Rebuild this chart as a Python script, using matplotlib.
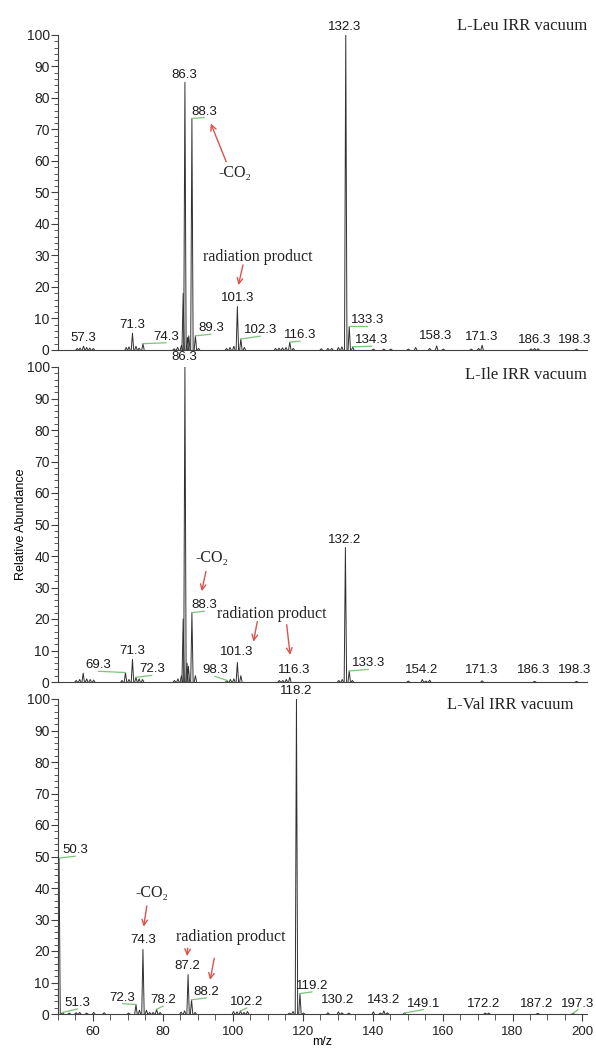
import matplotlib
matplotlib.use('Agg')
import matplotlib.pyplot as plt
from matplotlib.ticker import MultipleLocator

SANS = ['Liberation Sans', 'DejaVu Sans']
SERIF = ['Liberation Serif', 'DejaVu Serif']
GREEN = '#7cc47c'
RED = '#d9534f'
PEAK_W = 0.35

# ---- L-Leu ----
leu_mz = [55.5, 56.3, 57.3, 58.2, 59.1, 60.1, 69.5, 70.3, 71.3, 72.3, 73.2, 74.3,
          83.2, 84.2, 85.3, 85.8, 86.3, 87.0, 87.4, 88.3, 89.3, 90.2,
          98.2, 99.2, 100.3, 101.3, 102.3, 103.3, 112.2, 113.2, 114.2, 115.2, 116.3, 117.3,
          125.3, 127.2, 128.3, 130.2, 131.2, 132.3, 133.3, 134.3,
          140.2, 143.2, 145.2, 150.2, 152.3, 156.3, 158.3, 160.2, 168.2, 170.3, 171.3,
          185.3, 186.3, 187.3, 198.3]
leu_int = [0.5, 0.6, 1.2, 0.8, 0.6, 0.5, 0.8, 1.0, 5.3, 1.2, 0.6, 2.0,
           0.4, 0.8, 1.5, 18, 85, 4, 4.5, 73.5, 4.5, 0.5,
           0.5, 0.8, 1.2, 13.8, 3.5, 0.8, 0.5, 0.6, 0.7, 0.8, 2.5, 0.5,
           0.4, 0.5, 0.5, 0.8, 1.0, 100, 7.5, 1.0,
           0.3, 0.3, 0.3, 0.3, 0.8, 0.5, 1.3, 0.3, 0.3, 0.5, 1.5,
           0.4, 0.5, 0.4, 0.3]
leu_labels = ['57.3', '71.3', '74.3', '86.3', '88.3', '89.3', '101.3', '102.3', '116.3',
              '132.3', '133.3', '134.3', '158.3', '171.3', '186.3', '198.3']

# ---- L-Ile ----
ile_mz = [55.2, 56.2, 57.2, 58.2, 59.2, 60.2, 68.3, 69.3, 70.3, 71.3, 72.3, 73.2, 74.2,
          83.3, 84.3, 85.3, 85.8, 86.3, 86.9, 87.3, 88.3, 89.3,
          98.3, 99.3, 100.3, 101.3, 102.3, 113.3, 114.3, 115.3, 116.3,
          130.3, 131.3, 132.2, 133.3, 134.2,
          150.2, 154.2, 155.2, 156.3, 171.3, 186.3, 198.3]
ile_int = [0.5, 0.8, 2.8, 1.0, 0.8, 0.6, 0.5, 3.0, 0.8, 7.2, 1.5, 1.0, 0.8,
           0.5, 1.0, 2.0, 20, 100, 6, 5, 22, 2.0,
           0.5, 0.8, 1.0, 6.2, 2.0, 0.5, 0.5, 0.8, 1.5,
           0.5, 0.8, 42.7, 3.5, 0.5,
           0.3, 0.8, 0.3, 0.6, 0.4, 0.2, 0.2]
ile_labels = ['69.3', '71.3', '72.3', '86.3', '88.3', '98.3', '101.3', '116.3',
              '132.2', '133.3', '154.2', '171.3', '186.3', '198.3']

# ---- L-Val ----
val_mz = [50.3, 51.3, 53.2, 55.2, 56.2, 58.2, 60.2, 63.2, 70.2, 72.3, 73.3, 74.3, 75.3,
          76.2, 77.2, 78.2, 79.2, 85.2, 86.2, 87.2, 88.2, 89.2,
          100.2, 101.2, 102.2, 103.2, 104.2, 116.2, 117.2, 118.2, 119.2, 120.2,
          127.2, 130.2, 131.2, 133.2, 140.2, 142.2, 143.2, 144.2, 149.1,
          172.2, 173.2, 187.2, 197.3]
val_int = [49.5, 0.5, 0.3, 0.4, 0.5, 0.3, 0.5, 0.4, 0.3, 3.0, 1.2, 20.5, 1.2,
           0.5, 0.5, 1.5, 0.5, 0.6, 1.0, 12.5, 4.5, 0.5,
           0.8, 0.7, 1.0, 0.5, 0.8, 0.3, 0.8, 100, 6.5, 0.3,
           0.4, 0.7, 0.4, 0.3, 0.7, 0.3, 1.0, 0.4, 0.3,
           0.3, 0.3, 0.2, 0.2]
val_labels = ['50.3', '51.3', '72.3', '74.3', '78.2', '87.2', '88.2', '102.2', '118.2',
              '119.2', '130.2', '143.2', '149.1', '172.2', '187.2', '197.3']

titles = ['L-Leu IRR vacuum', 'L-Ile IRR vacuum', 'L-Val IRR vacuum']

# label layout: (x, y of text bottom, green leader?)
leu_pos = [(57.1, 1.8, 0), (71.2, 6.0, 0), (80.9, 2.3, 1), (86.2, 85.5, 0), (91.8, 73.8, 1),
           (93.7, 5.0, 1), (101.3, 14.6, 0), (107.8, 4.4, 1), (119.2, 2.8, 1),
           (132.1, 100.6, 0), (138.4, 7.5, 1), (139.7, 1.2, 1), (158.0, 2.6, 0),
           (171.1, 2.1, 0), (186.2, 1.2, 0), (197.8, 1.2, 0)]
ile_pos = [(61.6, 3.4, 1), (71.1, 7.9, 0), (76.8, 2.1, 1), (86.2, 101.2, 0), (91.8, 22.5, 1),
           (94.9, 1.8, 1), (101.1, 7.5, 0), (117.5, 1.8, 0), (132.1, 43.2, 0),
           (138.7, 4.0, 1), (154.0, 1.8, 0), (171.1, 1.8, 0), (185.9, 1.8, 0), (197.8, 1.8, 0)]
val_pos = [(54.9, 50.1, 1), (55.6, 1.6, 1), (68.5, 3.3, 1), (74.3, 21.5, 0), (80.0, 2.5, 1),
           (87.0, 13.3, 0), (92.4, 5.1, 1), (104.0, 1.9, 1), (118.1, 100.6, 0),
           (122.6, 7.0, 1), (129.9, 2.5, 0), (143.0, 2.5, 0), (154.5, 1.4, 1),
           (171.8, 1.4, 0), (186.8, 1.4, 0), (198.7, 1.4, 1)]

# red notes: (text, x, y, [arrows (x0, y0, x1, y1)])
leu_notes = [('-CO\u2082', 100.7, 56.2, [(98.1, 59.8, 93.7, 71.9)]),
             ('radiation product', 107.2, 29.6, [(102.9, 27.0, 101.6, 20.6)])]
ile_notes = [('-CO\u2082', 94.0, 39.4, [(92.3, 35.1, 91.1, 28.8)]),
             ('radiation product', 111.1, 21.7, [(107.0, 19.2, 105.9, 12.8),
                                                  (115.4, 18.2, 116.4, 8.6)])]
val_notes = [('-CO\u2082', 76.8, 38.5, [(75.4, 34.3, 74.5, 27.7)]),
             ('radiation product', 99.4, 24.3, [(87.1, 20.9, 86.9, 18.4),
                                                 (94.7, 17.7, 93.5, 10.8)])]

panels = [(leu_mz, leu_int, leu_labels, leu_pos, leu_notes),
          (ile_mz, ile_int, ile_labels, ile_pos, ile_notes),
          (val_mz, val_int, val_labels, val_pos, val_notes)]

fig = plt.figure(figsize=(5.96, 10.5), dpi=100)
left, width = 58 / 596, (587 - 58) / 596
bottoms = [1 - 350 / 1050, 1 - 682 / 1050, 1 - 1014 / 1050]
title_pos = [(1.0, 1.054), (1.0, 1.0), (0.975, 1.005)]

axes = []
for i, (mz, inten, labels, pos, notes) in enumerate(panels):
    ax = fig.add_axes([left, bottoms[i], width, 315 / 1050])
    axes.append(ax)
    for m, h in zip(mz, inten):
        ax.plot([m - PEAK_W, m, m + PEAK_W], [0, h, 0], color='#303030', lw=0.7)

    for lab, (lx, ly, lead) in zip(labels, pos):
        ax.text(lx, ly, lab, ha='center', va='bottom', fontsize=9.5,
                family=SANS, color='#1a1a1a')
        if lead:
            m = float(lab)
            k = min(range(len(mz)), key=lambda j: abs(mz[j] - m))
            ax.plot([mz[k], lx], [inten[k], ly], color=GREEN, lw=0.9, clip_on=False)

    for txt, tx, ty, arrows in notes:
        ax.text(tx, ty, txt, ha='center', va='center', fontsize=11.5,
                family=SERIF, color='#222222')
        for x0, y0, x1, y1 in arrows:
            ax.annotate('', xy=(x1, y1), xytext=(x0, y0),
                        arrowprops=dict(arrowstyle='->', color=RED, lw=1.0,
                                        shrinkA=0, shrinkB=0))

    tx, ty = title_pos[i]
    ax.text(tx, ty, titles[i], transform=ax.transAxes, ha='right', va='top',
            fontsize=12, family=SERIF, color='#222222')

    ax.set_xlim(50, 201.3)
    ax.set_ylim(0, 100)
    for s in ['top', 'right']:
        ax.spines[s].set_visible(False)
    for s in ['left', 'bottom']:
        ax.spines[s].set_color('#404040')
        ax.spines[s].set_linewidth(0.8)
    ax.yaxis.set_major_locator(MultipleLocator(10))
    ax.yaxis.set_minor_locator(MultipleLocator(2))
    ax.tick_params(axis='y', which='major', length=5, width=0.8, labelsize=10,
                   colors='#404040', labelcolor='#222222', pad=1)
    ax.tick_params(axis='y', which='minor', length=3, width=0.6, colors='#404040')
    for t in ax.get_yticklabels():
        t.set_family(SANS)
    if i < 2:
        ax.tick_params(axis='x', which='both', bottom=False, labelbottom=False)
    else:
        ax.xaxis.set_major_locator(MultipleLocator(20))
        ax.xaxis.set_minor_locator(MultipleLocator(5))
        ax.tick_params(axis='x', which='major', length=5, width=0.8, labelsize=9.5,
                       colors='#404040', labelcolor='#222222')
        ax.tick_params(axis='x', which='minor', length=4, width=0.6, colors='#404040')
        for t in ax.get_xticklabels():
            t.set_family(SANS)
        ax.set_xlabel('m/z', fontsize=9, family=SANS, labelpad=-1)

axes[1].set_ylabel('Relative Abundance', fontsize=9, family=SANS, labelpad=0)

fig.savefig('out.png', dpi=100)
